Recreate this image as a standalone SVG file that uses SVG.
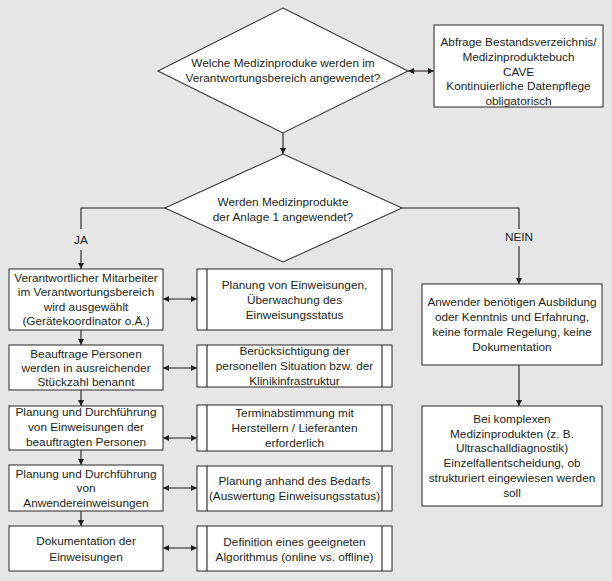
<svg xmlns="http://www.w3.org/2000/svg" width="612" height="581" viewBox="0 0 612 581">
<defs>
<marker id="ah" viewBox="0 0 10 10" refX="10" refY="5" markerWidth="6" markerHeight="6" markerUnits="userSpaceOnUse" orient="auto-start-reverse">
<path d="M0,0 L10,5 L0,10 z" fill="#231f20"/>
</marker>
<style>
.bg{fill:#e6e6e7}
.n{fill:#ffffff;stroke:#3b3838;stroke-width:1.1}
.c{fill:none;stroke:#231f20;stroke-width:1.1}
.t{font-family:"Liberation Sans",Arial,sans-serif;font-size:11.8px;fill:#231f20;text-anchor:middle}
</style>
</defs>
<rect class="bg" x="0" y="0" width="612" height="581"/>

<g id="connectors">
<line class="c" x1="408" y1="71" x2="434" y2="71" marker-start="url(#ah)" marker-end="url(#ah)"/>
<line class="c" x1="283" y1="133" x2="283" y2="154" marker-end="url(#ah)"/>
<polyline class="c" points="165,208 81,208 81,229"/>
<line class="c" x1="81" y1="250" x2="81" y2="269" marker-end="url(#ah)"/>
<text class="t" x="81" y="244">JA</text>
<polyline class="c" points="402,208 519,208 519,229"/>
<line class="c" x1="519" y1="246" x2="519" y2="284" marker-end="url(#ah)"/>
<text class="t" x="519" y="241">NEIN</text>
<line class="c" x1="519" y1="365" x2="519" y2="406" marker-end="url(#ah)"/>
<line class="c" x1="81" y1="330" x2="81" y2="345" marker-end="url(#ah)"/>
<line class="c" x1="81" y1="390" x2="81" y2="406" marker-end="url(#ah)"/>
<line class="c" x1="81" y1="450" x2="81" y2="465" marker-end="url(#ah)"/>
<line class="c" x1="81" y1="511" x2="81" y2="526" marker-end="url(#ah)"/>
<line class="c" x1="163" y1="299" x2="197" y2="299" marker-start="url(#ah)" marker-end="url(#ah)"/>
<line class="c" x1="163" y1="368" x2="197" y2="368" marker-start="url(#ah)" marker-end="url(#ah)"/>
<line class="c" x1="163" y1="438" x2="197" y2="438" marker-start="url(#ah)" marker-end="url(#ah)"/>
<line class="c" x1="163" y1="488" x2="197" y2="488" marker-start="url(#ah)" marker-end="url(#ah)"/>
<line class="c" x1="163" y1="548" x2="197" y2="548" marker-start="url(#ah)" marker-end="url(#ah)"/>
</g>

<g id="d1">
<polygon class="n" points="283,8 408,71 283,133 158,71"/>
<text class="t" x="283" y="67">Welche Medizinproduke werden im</text>
<text class="t" x="283" y="82">Verantwortungsbereich angewendet?</text>
</g>

<g id="info">
<rect class="n" x="434" y="25" width="169" height="82"/>
<text class="t" x="518.5" y="46">Abfrage Bestandsverzeichnis/</text>
<text class="t" x="518.5" y="61">Medizinproduktebuch</text>
<text class="t" x="518.5" y="76">CAVE</text>
<text class="t" x="518.5" y="90">Kontinuierliche Datenpflege</text>
<text class="t" x="518.5" y="105">obligatorisch</text>
</g>

<g id="d2">
<polygon class="n" points="283,154 402,208 283,262 165,208"/>
<text class="t" x="283" y="206">Werden Medizinprodukte</text>
<text class="t" x="283" y="221">der Anlage 1 angewendet?</text>
</g>

<g id="l1">
<rect class="n" x="9" y="269" width="154" height="61"/>
<text class="t" x="86" y="282">Verantwortlicher Mitarbeiter</text>
<text class="t" x="86" y="296">im Verantwortungsbereich</text>
<text class="t" x="86" y="311">wird ausgewählt</text>
<text class="t" x="86" y="325">(Gerätekoordinator o.Ä.)</text>
</g>
<g id="l2">
<rect class="n" x="9" y="345" width="154" height="45"/>
<text class="t" x="86" y="358">Beauftrage Personen</text>
<text class="t" x="86" y="372">werden in ausreichender</text>
<text class="t" x="86" y="386">Stückzahl benannt</text>
</g>
<g id="l3">
<rect class="n" x="9" y="406" width="154" height="44"/>
<text class="t" x="86" y="416">Planung und Durchführung</text>
<text class="t" x="86" y="431">von Einweisungen der</text>
<text class="t" x="86" y="446">beauftragten Personen</text>
</g>
<g id="l4">
<rect class="n" x="9" y="465" width="154" height="46"/>
<text class="t" x="86" y="478">Planung und Durchführung</text>
<text class="t" x="86" y="492">von</text>
<text class="t" x="86" y="507">Anwendereinweisungen</text>
</g>
<g id="l5">
<rect class="n" x="9" y="526" width="154" height="45"/>
<text class="t" x="86" y="545">Dokumentation der</text>
<text class="t" x="86" y="561">Einweisungen</text>
</g>

<g id="m1">
<rect class="n" x="197" y="269" width="195" height="61"/>
<line class="c" x1="207" y1="269" x2="207" y2="330"/><line class="c" x1="382" y1="269" x2="382" y2="330"/>
<text class="t" x="294.5" y="289">Planung von Einweisungen,</text>
<text class="t" x="294.5" y="304">Überwachung des</text>
<text class="t" x="294.5" y="319">Einweisungsstatus</text>
</g>
<g id="m2">
<rect class="n" x="197" y="345" width="195" height="42"/>
<line class="c" x1="207" y1="345" x2="207" y2="387"/><line class="c" x1="382" y1="345" x2="382" y2="387"/>
<text class="t" x="294.5" y="355">Berücksichtigung der</text>
<text class="t" x="294.5" y="370">personellen Situation bzw. der</text>
<text class="t" x="294.5" y="385">Klinikinfrastruktur</text>
</g>
<g id="m3">
<rect class="n" x="197" y="405" width="195" height="46"/>
<line class="c" x1="207" y1="405" x2="207" y2="451"/><line class="c" x1="382" y1="405" x2="382" y2="451"/>
<text class="t" x="294.5" y="417">Terminabstimmung mit</text>
<text class="t" x="294.5" y="432">Herstellern / Lieferanten</text>
<text class="t" x="294.5" y="447">erforderlich</text>
</g>
<g id="m4">
<rect class="n" x="197" y="466" width="195" height="45"/>
<line class="c" x1="207" y1="466" x2="207" y2="511"/><line class="c" x1="382" y1="466" x2="382" y2="511"/>
<text class="t" x="294.5" y="485">Planung anhand des Bedarfs</text>
<text class="t" x="294.5" y="500">(Auswertung Einweisungsstatus)</text>
</g>
<g id="m5">
<rect class="n" x="197" y="526" width="195" height="45"/>
<line class="c" x1="207" y1="526" x2="207" y2="571"/><line class="c" x1="382" y1="526" x2="382" y2="571"/>
<text class="t" x="294.5" y="546">Definition eines geeigneten</text>
<text class="t" x="294.5" y="561">Algorithmus (online vs. offline)</text>
</g>

<g id="r1">
<rect class="n" x="422" y="284" width="180" height="81"/>
<text class="t" x="512" y="306">Anwender benötigen Ausbildung</text>
<text class="t" x="512" y="321">oder Kenntnis und Erfahrung,</text>
<text class="t" x="512" y="336">keine formale Regelung, keine</text>
<text class="t" x="512" y="351">Dokumentation</text>
</g>
<g id="r2">
<rect class="n" x="422" y="406" width="180" height="100"/>
<text class="t" x="512" y="423">Bei komplexen</text>
<text class="t" x="512" y="438">Medizinprodukten (z. B.</text>
<text class="t" x="512" y="452">Ultraschalldiagnostik)</text>
<text class="t" x="512" y="467">Einzelfallentscheidung, ob</text>
<text class="t" x="512" y="482">strukturiert eingewiesen werden</text>
<text class="t" x="512" y="497">soll</text>
</g>
</svg>
